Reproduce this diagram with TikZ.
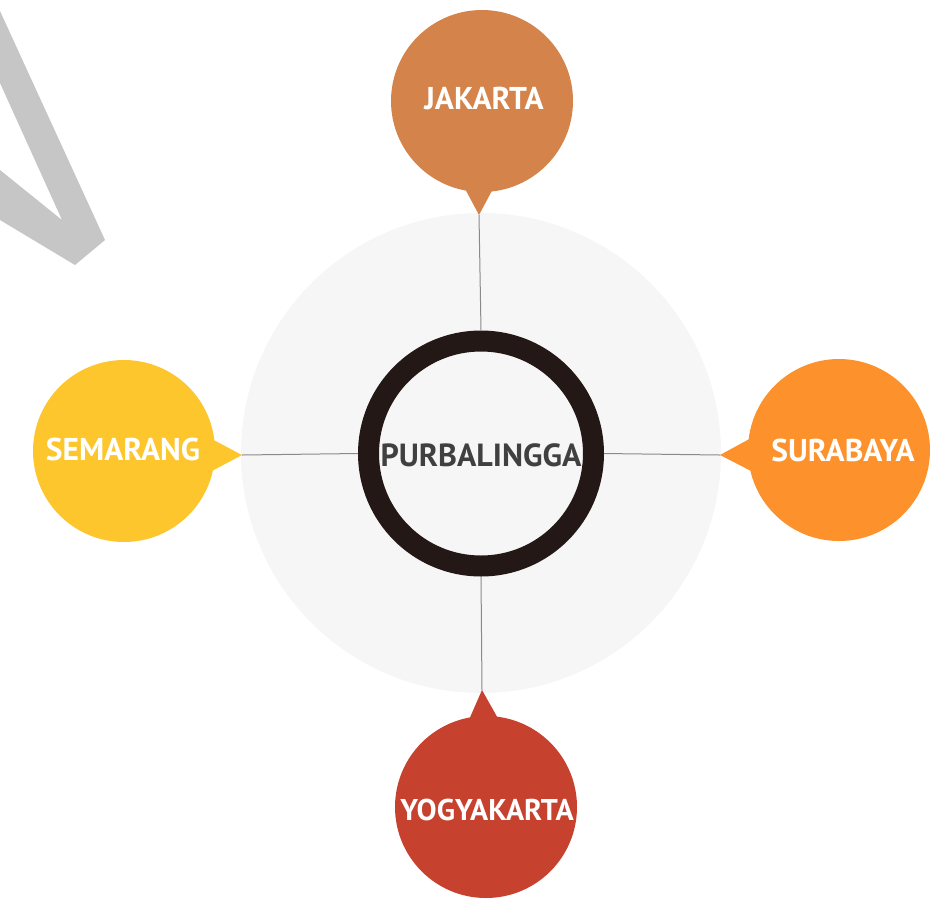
\documentclass[tikz,border=0pt]{standalone}
\usepackage{fontspec}
\setmainfont{PT Sans}
\definecolor{bgc}{HTML}{F6F6F6}
\definecolor{vgray}{HTML}{C6C6C6}
\definecolor{ringc}{HTML}{231815}
\definecolor{txtc}{HTML}{404040}
\definecolor{connc}{HTML}{8A8A8A}
\definecolor{jakc}{HTML}{D4834A}
\definecolor{surc}{HTML}{FD912B}
\definecolor{semc}{HTML}{FCC62C}
\definecolor{yogc}{HTML}{C7412F}
\tikzset{
  bubble/.style={circle, minimum size=182pt, inner sep=0pt},
  btext/.style={text=white, inner sep=0pt, font=\bfseries\fontsize{31.5}{33}\selectfont},
  conn/.style={draw=connc, line width=1pt},
}
\begin{document}
\begin{tikzpicture}[x=1pt,y=-1pt]
\useasboundingbox (0,0) rectangle (942,898);
\fill[vgray] (0,11) -- (105,240) -- (75,265) -- (0,220) -- (0,170) -- (62,220) -- (0,83) -- cycle;
\node[circle, fill=bgc, minimum size=480pt, inner sep=0pt] (bg) at (481,453) {};
% bubbles
\coordinate (jt) at (479,215);
\coordinate (st) at (720,455);
\coordinate (mt) at (242,455);
\coordinate (yt) at (482,690);
\fill[jakc] (463,185) -- (jt) -- (495,185) -- cycle;
\fill[surc] (753,437) -- (st) -- (753,472) -- cycle;
\fill[semc] (210,438) -- (mt) -- (210,472) -- cycle;
\fill[yogc] (468,722) -- (yt) -- (500,722) -- cycle;
\node[bubble, fill=jakc] (jak) at (482,101) {};
\node[btext] (jakt) at (484,98) {JAKARTA};
\node[bubble, fill=surc] (sur) at (839,450) {};
\node[btext] (surt) at (843,450) {SURABAYA};
\node[bubble, fill=semc] (sem) at (124,451) {};
\node[btext] (semt) at (123,449) {SEMARANG};
\node[bubble, fill=yogc] (yog) at (486,807) {};
\node[btext, font=\bfseries\fontsize{30}{32}\selectfont] (yogt) at (487,810) {YOGYAKARTA};
% ring
\node[circle, draw=ringc, line width=21pt, minimum size=225pt, inner sep=0pt] (ring) at (481,453.5) {};
\node[text=txtc, inner sep=0pt, font=\bfseries\fontsize{32}{34}\selectfont] (ringt) at (481,455) {PURBALINGGA};
\draw[conn] (jt) -- (ring.north);
\draw[conn] (st) -- (ring.east);
\draw[conn] (mt) -- (ring.west);
\draw[conn] (yt) -- (ring.south);
\end{tikzpicture}
\end{document}
